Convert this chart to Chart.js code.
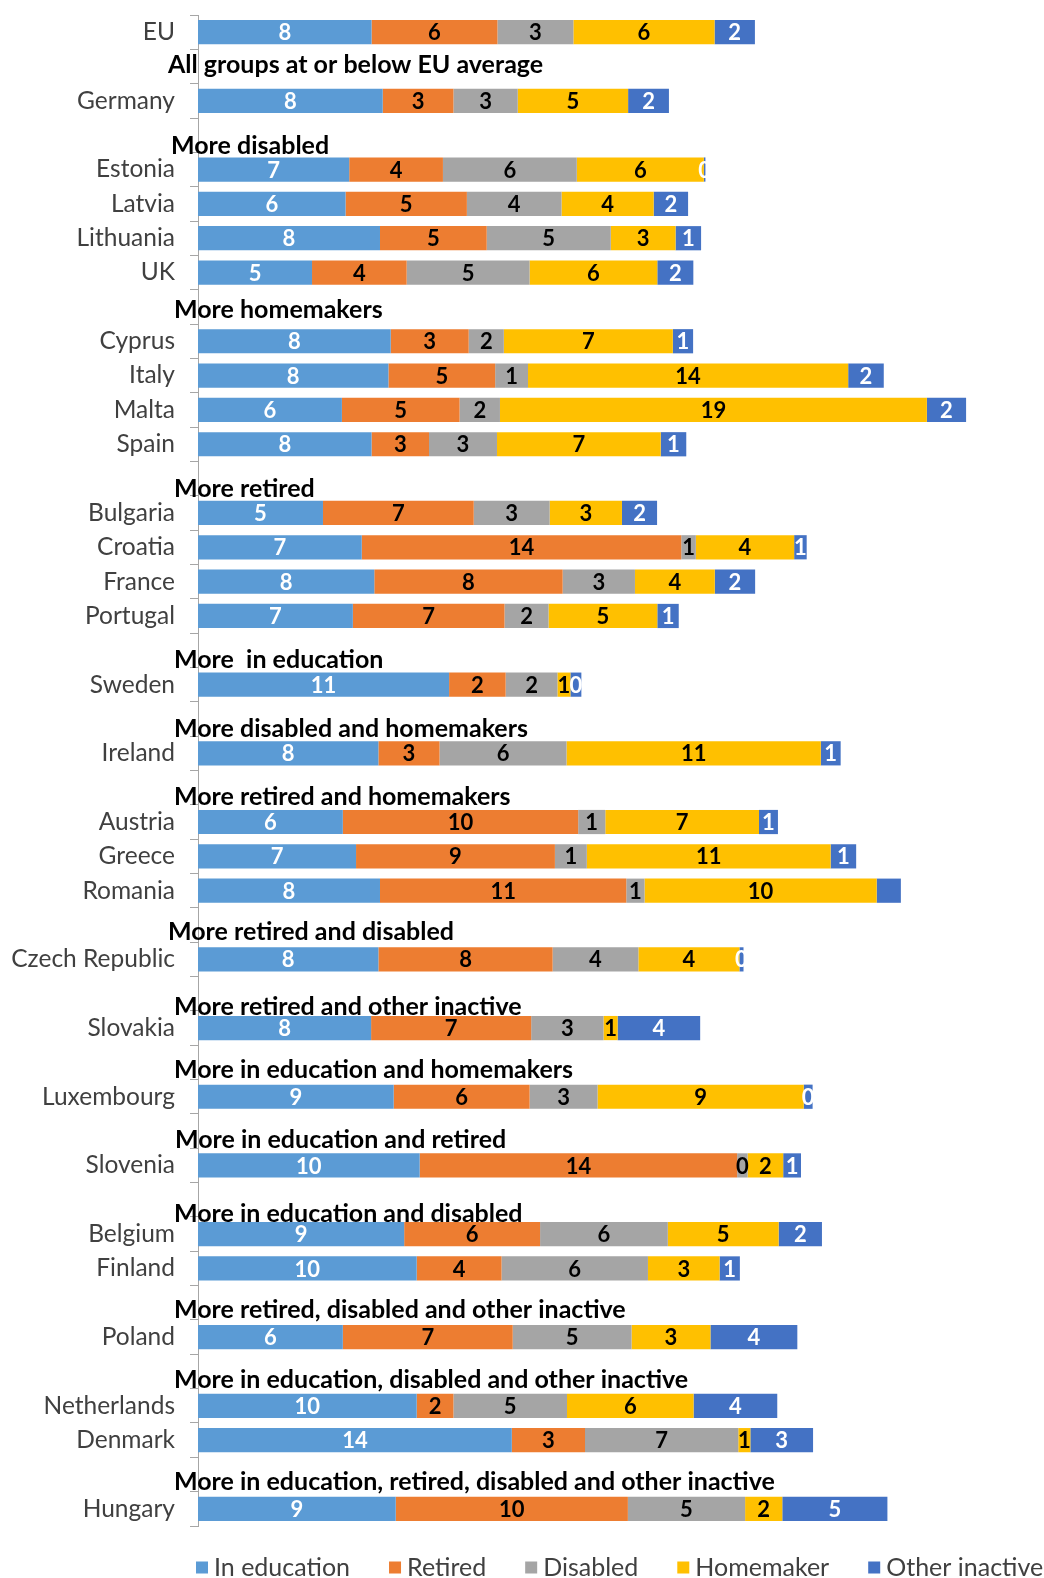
<!DOCTYPE html>
<html>
<head>
<meta charset="utf-8">
<script src="https://cdn.jsdelivr.net/npm/chart.js@4.4.0/dist/chart.umd.min.js"></script>
<style>
  html, body { margin: 0; padding: 0; background: #fff; overflow: hidden; }
  .chart_wrap { position: relative; width: 1044px; height: 1578px; }
</style>
</head>
<body>
<div class="chart_wrap"><canvas id="inactive_chart"></canvas></div>
<script>
  // rows of the chart, "" = spacer row that carries a group title
  const countries = [
    "EU", "", "Germany", "", "Estonia", "Latvia", "Lithuania", "UK", "",
    "Cyprus", "Italy", "Malta", "Spain", "", "Bulgaria", "Croatia", "France", "Portugal", "",
    "Sweden", "", "Ireland", "", "Austria", "Greece", "Romania", "", "Czech Republic", "",
    "Slovakia", "", "Luxembourg", "", "Slovenia", "", "Belgium", "Finland", "",
    "Poland", "", "Netherlands", "Denmark", "", "Hungary",
  ];

  const groupTitles = [
    "All groups at or below EU average",
    "More disabled",
    "More homemakers",
    "More retired",
    "More  in education",
    "More disabled and homemakers",
    "More retired and homemakers",
    "More retired and disabled",
    "More retired and other inactive",
    "More in education and homemakers",
    "More in education and retired",
    "More in education and disabled",
    "More retired, disabled and other inactive",
    "More in education, disabled and other inactive",
    "More in education, retired, disabled and other inactive",
  ];

  const seriesNames = ["In education", "Retired", "Disabled", "Homemaker", "Other inactive"];

  const inEducation = [
    7.61, null, 8.10, null, 6.63, 6.47, 7.98, 5.00, null,
    8.45, 8.35, 6.31, 7.61, null, 5.48, 7.18, 7.73, 6.79, null,
    11.01, null, 7.91, null, 6.35, 6.93, 7.98, null, 7.91, null,
    7.59, null, 8.58, null, 9.72, null, 9.04, 9.59, null,
    6.35, null, 9.59, 13.76, null, 8.67,
  ];
  const retired = [
    5.52, null, 3.10, null, 4.11, 5.32, 4.68, 4.15, null,
    3.42, 4.68, 5.16, 2.52, null, 6.61, 14.01, 8.26, 6.65, null,
    2.48, null, 2.68, null, 10.32, 8.72, 10.80, null, 7.64, null,
    7.02, null, 5.96, null, 13.92, null, 5.96, 3.72, null,
    7.45, null, 1.61, 3.21, null, 10.18,
  ];
  const disabled = [
    3.33, null, 2.82, null, 5.87, 4.15, 5.44, 5.39, null,
    1.54, 1.44, 1.77, 2.98, null, 3.33, 0.64, 3.17, 1.93, null,
    2.27, null, 5.57, null, 1.19, 1.40, 0.80, null, 3.76, null,
    3.17, null, 2.98, null, 0.46, null, 5.60, 6.42, null,
    5.21, null, 4.98, 6.72, null, 5.14,
  ];
  const homemaker = [
    6.19, null, 4.84, null, 5.57, 4.04, 2.84, 5.60, null,
    7.41, 14.04, 18.72, 7.18, null, 3.17, 4.31, 3.50, 4.77, null,
    0.57, null, 11.15, null, 6.74, 10.69, 10.18, null, 4.43, null,
    0.62, null, 9.04, null, 1.56, null, 4.86, 3.14, null,
    3.46, null, 5.55, 0.53, null, 1.63,
  ];
  const otherInactive = [
    1.77, null, 1.79, null, 0.07, 1.51, 1.12, 1.58, null,
    0.89, 1.56, 1.72, 1.12, null, 1.54, 0.55, 1.77, 0.94, null,
    0.48, null, 0.87, null, 0.83, 1.12, 1.06, null, 0.18, null,
    3.62, null, 0.39, null, 0.78, null, 1.90, 0.89, null,
    3.81, null, 3.67, 2.75, null, 4.61,
  ];

  // segments printed without a value
  const unlabelled = [["Romania", 4]];

  const colors = ["#5B9BD5", "#ED7D31", "#A5A5A5", "#FFC000", "#4472C4"];
  const labelColors = ["#FFFFFF", "#000000", "#000000", "#000000", "#FFFFFF"];
  const FONT = "Lato";

  // title placement relative to its spacer row: [x, dy]
  const titlePlace = [
    [168, -2], [171, 11], [174, 3], [174, 10], [174, 10], [174, 10], [174, 9], [168, 7],
    [174, 13], [174, 8], [175, 9], [174, 14], [174, 7], [174, 8], [174, 7],
  ];

  const valueLabels = {
    id: "valueLabels",
    afterDatasetsDraw(chart) {
      const ctx = chart.ctx;
      ctx.save();
      ctx.font = "bold 22px " + FONT;
      ctx.textAlign = "center";
      ctx.textBaseline = "middle";
      chart.data.datasets.forEach(function (ds, i) {
        const meta = chart.getDatasetMeta(i);
        meta.data.forEach(function (bar, j) {
          const v = ds.data[j];
          if (v === null) return;
          if (unlabelled.some((u) => u[0] === countries[j] && u[1] === i)) return;
          ctx.fillStyle = labelColors[i];
          ctx.fillText(String(Math.round(v)), (bar.x + bar.base) / 2, bar.y + 1);
        });
      });
      ctx.restore();
    },
  };

  const groupHeaders = {
    id: "groupHeaders",
    afterDraw(chart) {
      const ctx = chart.ctx;
      const y = chart.scales.y;
      ctx.save();
      ctx.font = "bold 25px " + FONT;
      ctx.fillStyle = "#000";
      ctx.textAlign = "left";
      ctx.textBaseline = "middle";
      let t = 0;
      countries.forEach(function (name, row) {
        if (name !== "") return;
        const p = titlePlace[t];
        ctx.fillText(groupTitles[t], p[0], y.getPixelForValue(row) + p[1]);
        t++;
      });
      ctx.restore();
    },
  };

  // legend row under the plot
  const bottomLegend = {
    id: "bottomLegend",
    afterDraw(chart) {
      const ctx = chart.ctx;
      const cy = 1567.5;
      let x = 196;
      ctx.save();
      ctx.font = "25px " + FONT;
      ctx.textBaseline = "middle";
      ctx.textAlign = "left";
      seriesNames.forEach(function (name, i) {
        ctx.fillStyle = colors[i];
        ctx.fillRect(x, cy - 6, 12, 12);
        ctx.fillStyle = "#404040";
        ctx.fillText(name, x + 18, cy);
        x += 18 + ctx.measureText(name).width + 39;
      });
      ctx.restore();
    },
  };

  const seriesData = [inEducation, retired, disabled, homemaker, otherInactive];

  const inactiveChart = new Chart(document.getElementById("inactive_chart"), {
    type: "bar",
    data: {
      labels: countries,
      datasets: seriesNames.map(function (name, i) {
        return {
          label: name,
          data: seriesData[i],
          backgroundColor: colors[i],
          borderWidth: 0,
          barPercentage: 0.705,
          categoryPercentage: 1,
        };
      }),
    },
    options: {
      indexAxis: "y",
      responsive: true,
      maintainAspectRatio: false,
      animation: false,
      layout: {
        padding: { top: 15, right: 25, bottom: 52, left: 0 },
      },
      plugins: {
        legend: { display: false },
        tooltip: { enabled: false },
      },
      scales: {
        x: {
          display: false,
          stacked: true,
          min: 0,
          max: 36,
        },
        y: {
          stacked: true,
          afterFit: function (scale) {
            scale.width = 198;
            scale.paddingTop = 0;
            scale.paddingBottom = 0;
          },
          grid: {
            offset: true,
            drawOnChartArea: false,
            drawTicks: true,
            tickLength: 8,
            color: "#A6A6A6",
          },
          border: { color: "#A6A6A6" },
          ticks: {
            autoSkip: false,
            padding: 15,
            color: "#404040",
            font: { family: FONT, size: 24.5 },
          },
        },
      },
    },
    plugins: [valueLabels, groupHeaders, bottomLegend],
  });
</script>
</body>
</html>
